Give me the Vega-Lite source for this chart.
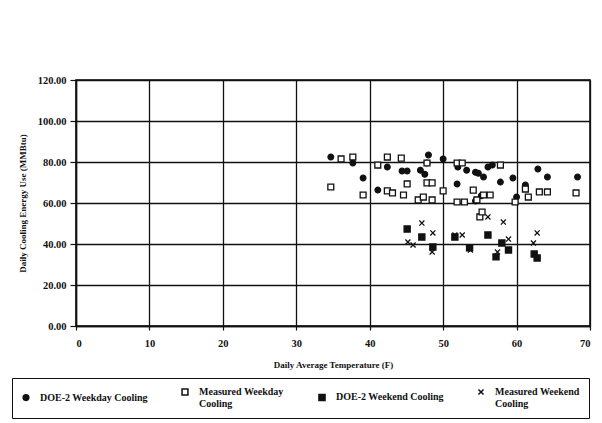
{
  "$schema": "https://vega.github.io/schema/vega-lite/v6.json",
  "width": 514,
  "height": 246,
  "autosize": {"type": "none"},
  "padding": {"left": 76, "top": 80, "right": 12, "bottom": 97},
  "background": "white",
  "config": {
    "font": "Liberation Serif",
    "view": {"stroke": "black", "strokeWidth": 1.5},
    "axis": {
      "labelFont": "Liberation Serif",
      "labelFontWeight": "bold",
      "labelFontSize": 10.5,
      "labelColor": "#111",
      "titleFont": "Liberation Serif",
      "titleFontWeight": "bold",
      "titleFontSize": 9,
      "titleColor": "#111",
      "domainColor": "#111",
      "domainWidth": 1.5,
      "tickColor": "#111",
      "tickWidth": 1.2,
      "tickSize": 5,
      "gridColor": "#111",
      "gridWidth": 1.3,
      "gridOpacity": 1
    },
    "legend": {
      "labelFont": "Liberation Serif",
      "labelFontWeight": "bold",
      "labelFontSize": 10,
      "labelColor": "#111"
    }
  },
  "data": {
    "values": [
      {"t": 34.7, "e": 82.4, "s": "DOE-2 Weekday Cooling"},
      {"t": 37.7, "e": 79.5, "s": "DOE-2 Weekday Cooling"},
      {"t": 39.1, "e": 72.2, "s": "DOE-2 Weekday Cooling"},
      {"t": 41.1, "e": 66.3, "s": "DOE-2 Weekday Cooling"},
      {"t": 42.4, "e": 77.6, "s": "DOE-2 Weekday Cooling"},
      {"t": 44.4, "e": 75.6, "s": "DOE-2 Weekday Cooling"},
      {"t": 45.1, "e": 75.6, "s": "DOE-2 Weekday Cooling"},
      {"t": 46.9, "e": 76.0, "s": "DOE-2 Weekday Cooling"},
      {"t": 47.5, "e": 74.0, "s": "DOE-2 Weekday Cooling"},
      {"t": 47.8, "e": 79.5, "s": "DOE-2 Weekday Cooling"},
      {"t": 48.0, "e": 83.4, "s": "DOE-2 Weekday Cooling"},
      {"t": 50.0, "e": 81.5, "s": "DOE-2 Weekday Cooling"},
      {"t": 51.9, "e": 69.3, "s": "DOE-2 Weekday Cooling"},
      {"t": 52.0, "e": 77.5, "s": "DOE-2 Weekday Cooling"},
      {"t": 53.2, "e": 76.0, "s": "DOE-2 Weekday Cooling"},
      {"t": 54.4, "e": 75.0, "s": "DOE-2 Weekday Cooling"},
      {"t": 54.8, "e": 74.5, "s": "DOE-2 Weekday Cooling"},
      {"t": 55.5, "e": 72.7, "s": "DOE-2 Weekday Cooling"},
      {"t": 56.1, "e": 77.6, "s": "DOE-2 Weekday Cooling"},
      {"t": 56.7, "e": 78.5, "s": "DOE-2 Weekday Cooling"},
      {"t": 57.8, "e": 70.2, "s": "DOE-2 Weekday Cooling"},
      {"t": 59.5, "e": 72.2, "s": "DOE-2 Weekday Cooling"},
      {"t": 60.0, "e": 62.9, "s": "DOE-2 Weekday Cooling"},
      {"t": 61.2, "e": 68.8, "s": "DOE-2 Weekday Cooling"},
      {"t": 62.9, "e": 76.6, "s": "DOE-2 Weekday Cooling"},
      {"t": 64.2, "e": 72.7, "s": "DOE-2 Weekday Cooling"},
      {"t": 68.3, "e": 72.7, "s": "DOE-2 Weekday Cooling"},
      {"t": 54.4, "e": 61.0, "s": "DOE-2 Weekday Cooling"},
      {"t": 55.2, "e": 63.5, "s": "DOE-2 Weekday Cooling"},
      {"t": 34.7, "e": 67.8, "s": "Measured Weekday Cooling"},
      {"t": 36.1, "e": 81.5, "s": "Measured Weekday Cooling"},
      {"t": 37.7, "e": 82.4, "s": "Measured Weekday Cooling"},
      {"t": 39.1, "e": 63.9, "s": "Measured Weekday Cooling"},
      {"t": 41.1, "e": 78.5, "s": "Measured Weekday Cooling"},
      {"t": 42.4, "e": 82.4, "s": "Measured Weekday Cooling"},
      {"t": 44.3, "e": 81.9, "s": "Measured Weekday Cooling"},
      {"t": 45.1, "e": 69.3, "s": "Measured Weekday Cooling"},
      {"t": 44.6, "e": 63.9, "s": "Measured Weekday Cooling"},
      {"t": 42.4, "e": 65.9, "s": "Measured Weekday Cooling"},
      {"t": 43.1, "e": 64.9, "s": "Measured Weekday Cooling"},
      {"t": 47.8, "e": 79.5, "s": "Measured Weekday Cooling"},
      {"t": 47.8, "e": 69.8, "s": "Measured Weekday Cooling"},
      {"t": 48.5, "e": 69.8, "s": "Measured Weekday Cooling"},
      {"t": 46.6, "e": 61.5, "s": "Measured Weekday Cooling"},
      {"t": 47.3, "e": 62.9, "s": "Measured Weekday Cooling"},
      {"t": 48.5, "e": 61.5, "s": "Measured Weekday Cooling"},
      {"t": 50.0, "e": 65.9, "s": "Measured Weekday Cooling"},
      {"t": 51.9, "e": 79.5, "s": "Measured Weekday Cooling"},
      {"t": 52.6, "e": 79.5, "s": "Measured Weekday Cooling"},
      {"t": 51.9, "e": 60.5, "s": "Measured Weekday Cooling"},
      {"t": 52.9, "e": 60.5, "s": "Measured Weekday Cooling"},
      {"t": 57.8, "e": 78.5, "s": "Measured Weekday Cooling"},
      {"t": 54.1, "e": 66.3, "s": "Measured Weekday Cooling"},
      {"t": 54.6, "e": 61.5, "s": "Measured Weekday Cooling"},
      {"t": 55.5, "e": 63.9, "s": "Measured Weekday Cooling"},
      {"t": 56.4, "e": 63.9, "s": "Measured Weekday Cooling"},
      {"t": 55.0, "e": 53.2, "s": "Measured Weekday Cooling"},
      {"t": 55.3, "e": 55.6, "s": "Measured Weekday Cooling"},
      {"t": 59.8, "e": 60.5, "s": "Measured Weekday Cooling"},
      {"t": 61.2, "e": 66.8, "s": "Measured Weekday Cooling"},
      {"t": 61.6, "e": 62.9, "s": "Measured Weekday Cooling"},
      {"t": 63.1, "e": 65.4, "s": "Measured Weekday Cooling"},
      {"t": 64.2, "e": 65.4, "s": "Measured Weekday Cooling"},
      {"t": 68.1, "e": 64.9, "s": "Measured Weekday Cooling"},
      {"t": 45.1, "e": 47.3, "s": "DOE-2 Weekend Cooling"},
      {"t": 47.1, "e": 43.4, "s": "DOE-2 Weekend Cooling"},
      {"t": 48.6, "e": 38.5, "s": "DOE-2 Weekend Cooling"},
      {"t": 51.6, "e": 43.4, "s": "DOE-2 Weekend Cooling"},
      {"t": 53.6, "e": 38.2, "s": "DOE-2 Weekend Cooling"},
      {"t": 56.1, "e": 44.4, "s": "DOE-2 Weekend Cooling"},
      {"t": 58.0, "e": 40.5, "s": "DOE-2 Weekend Cooling"},
      {"t": 58.9, "e": 37.1, "s": "DOE-2 Weekend Cooling"},
      {"t": 57.2, "e": 33.7, "s": "DOE-2 Weekend Cooling"},
      {"t": 62.4, "e": 35.1, "s": "DOE-2 Weekend Cooling"},
      {"t": 62.8, "e": 33.2, "s": "DOE-2 Weekend Cooling"},
      {"t": 47.1, "e": 50.2, "s": "Measured Weekend Cooling"},
      {"t": 48.6, "e": 45.4, "s": "Measured Weekend Cooling"},
      {"t": 45.2, "e": 41.0, "s": "Measured Weekend Cooling"},
      {"t": 45.9, "e": 39.5, "s": "Measured Weekend Cooling"},
      {"t": 48.5, "e": 36.1, "s": "Measured Weekend Cooling"},
      {"t": 51.6, "e": 44.4, "s": "Measured Weekend Cooling"},
      {"t": 52.6, "e": 44.4, "s": "Measured Weekend Cooling"},
      {"t": 53.7, "e": 37.1, "s": "Measured Weekend Cooling"},
      {"t": 56.1, "e": 53.2, "s": "Measured Weekend Cooling"},
      {"t": 58.2, "e": 50.7, "s": "Measured Weekend Cooling"},
      {"t": 58.9, "e": 42.4, "s": "Measured Weekend Cooling"},
      {"t": 57.4, "e": 36.1, "s": "Measured Weekend Cooling"},
      {"t": 62.8, "e": 45.4, "s": "Measured Weekend Cooling"},
      {"t": 62.3, "e": 40.5, "s": "Measured Weekend Cooling"}
    ]
  },
  "mark": {"type": "point", "stroke": "#111", "strokeWidth": 1.3, "opacity": 1},
  "encoding": {
    "x": {
      "field": "t",
      "type": "quantitative",
      "scale": {"domain": [0, 70], "nice": false},
      "axis": {
        "title": "Daily Average Temperature (F)",
        "values": [0, 10, 20, 30, 40, 50, 60, 70],
        "labelPadding": 8,
        "titlePadding": 12,
        "tickSize": 4
      }
    },
    "y": {
      "field": "e",
      "type": "quantitative",
      "scale": {"domain": [0, 120], "nice": false},
      "axis": {
        "title": "Daily Cooling Energy Use (MMBtu)",
        "values": [0, 20, 40, 60, 80, 100, 120],
        "format": ".2f",
        "labelPadding": 4,
        "titlePadding": 10,
        "tickSize": 6
      }
    },
    "shape": {
      "field": "s",
      "type": "nominal",
      "scale": {
        "domain": ["DOE-2 Weekday Cooling", "Measured Weekday Cooling", "DOE-2 Weekend Cooling", "Measured Weekend Cooling"],
        "range": ["circle", "square", "square", "M-0.8,-0.8L0.8,0.8M0.8,-0.8L-0.8,0.8"]
      },
      "legend": {
        "title": null,
        "orient": "none",
        "legendX": -64,
        "legendY": 298,
        "direction": "horizontal",
        "columns": 4,
        "columnPadding": 31,
        "padding": 9,
        "strokeColor": "#111",
        "labelLimit": 200,
        "labelOffset": 9,
        "labelExpr": "datum.label == 'Measured Weekday Cooling' ? ['Measured Weekday', 'Cooling'] : datum.label == 'Measured Weekend Cooling' ? ['Measured Weekend', 'Cooling'] : datum.label"
      }
    },
    "fill": {
      "field": "s",
      "type": "nominal",
      "scale": {
        "domain": ["DOE-2 Weekday Cooling", "Measured Weekday Cooling", "DOE-2 Weekend Cooling", "Measured Weekend Cooling"],
        "range": ["#111111", "#ffffff", "#111111", "transparent"]
      },
      "legend": {
        "title": null,
        "orient": "none",
        "legendX": -64,
        "legendY": 298,
        "direction": "horizontal",
        "columns": 4,
        "columnPadding": 31,
        "padding": 9,
        "strokeColor": "#111",
        "labelLimit": 200,
        "labelOffset": 9,
        "labelExpr": "datum.label == 'Measured Weekday Cooling' ? ['Measured Weekday', 'Cooling'] : datum.label == 'Measured Weekend Cooling' ? ['Measured Weekend', 'Cooling'] : datum.label"
      }
    },
    "size": {
      "field": "s",
      "type": "nominal",
      "scale": {
        "domain": ["DOE-2 Weekday Cooling", "Measured Weekday Cooling", "DOE-2 Weekend Cooling", "Measured Weekend Cooling"],
        "range": [32, 40, 55, 40]
      },
      "legend": {
        "title": null,
        "orient": "none",
        "legendX": -64,
        "legendY": 298,
        "direction": "horizontal",
        "columns": 4,
        "columnPadding": 31,
        "padding": 9,
        "strokeColor": "#111",
        "labelLimit": 200,
        "labelOffset": 9,
        "labelExpr": "datum.label == 'Measured Weekday Cooling' ? ['Measured Weekday', 'Cooling'] : datum.label == 'Measured Weekend Cooling' ? ['Measured Weekend', 'Cooling'] : datum.label"
      }
    }
  }
}
